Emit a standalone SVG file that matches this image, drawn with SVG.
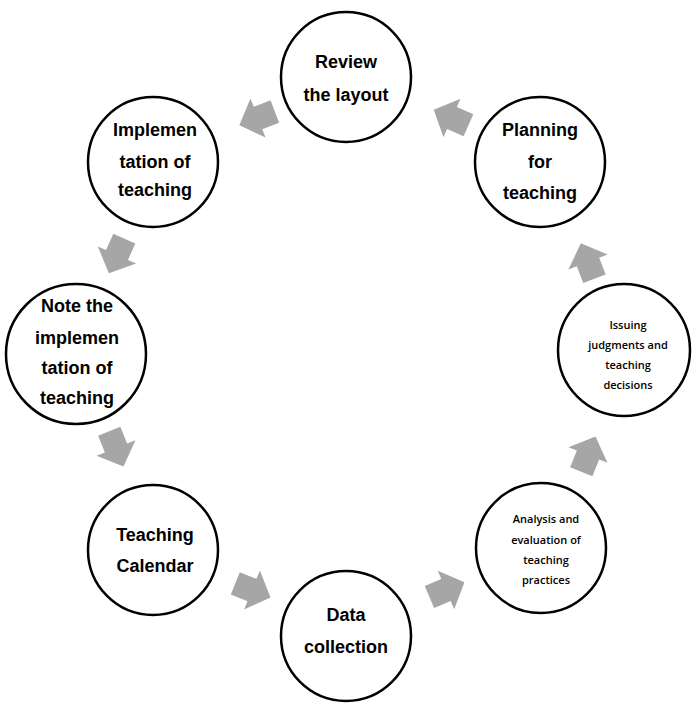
<svg xmlns="http://www.w3.org/2000/svg" width="693" height="703" viewBox="0 0 693 703">
<defs>
<style>
.c{fill:#fff;stroke:#000;stroke-width:2.5}
.t{font-family:"Liberation Sans",Arial,sans-serif;font-weight:bold;font-size:18px;text-anchor:middle;fill:#000}
.s{font-family:"Open Sans","DejaVu Sans",sans-serif;font-weight:600;font-size:11px;text-anchor:middle;fill:#000}
.a{fill:#a6a6a6}
</style>
<polygon id="arr" points="-18,-12 0,-12 0,-21 20,0 0,21 0,12 -18,12"/>
</defs>
<rect width="693" height="703" fill="#fff"/>
<g id="connectors" class="a">
<use href="#arr" transform="translate(258,118) rotate(159)"/>
<use href="#arr" transform="translate(117,255) rotate(114)"/>
<use href="#arr" transform="translate(116,448) rotate(68)"/>
<use href="#arr" transform="translate(252,590) rotate(22)"/>
<use href="#arr" transform="translate(446,590) rotate(-23)"/>
<use href="#arr" transform="translate(588,455) rotate(-68)"/>
<use href="#arr" transform="translate(588,262) rotate(-111)"/>
<use href="#arr" transform="translate(452,118) rotate(-156)"/>
</g>
<g id="review"><circle class="c" cx="346" cy="77" r="65"/><text class="t" x="346" y="68">Review</text><text class="t" x="346" y="101">the layout</text></g>
<g id="planning"><circle class="c" cx="540" cy="162" r="65"/><text class="t" x="540" y="136">Planning</text><text class="t" x="540" y="168">for</text><text class="t" x="540" y="199">teaching</text></g>
<g id="issuing"><circle class="c" cx="624" cy="350" r="66"/><text class="s" x="628" y="329">Issuing</text><text class="s" x="628" y="349">judgments and</text><text class="s" x="628" y="369">teaching</text><text class="s" x="628" y="389">decisions</text></g>
<g id="analysis"><circle class="c" cx="541" cy="548" r="65"/><text class="s" x="546" y="523">Analysis and</text><text class="s" x="546" y="544">evaluation of</text><text class="s" x="546" y="564">teaching</text><text class="s" x="546" y="584">practices</text></g>
<g id="data"><circle class="c" cx="346" cy="636" r="65"/><text class="t" x="346" y="621">Data</text><text class="t" x="346" y="653">collection</text></g>
<g id="calendar"><circle class="c" cx="153" cy="550" r="65"/><text class="t" x="155" y="541">Teaching</text><text class="t" x="155" y="572">Calendar</text></g>
<g id="note"><circle class="c" cx="76" cy="354" r="70"/><text class="t" x="77" y="312">Note the</text><text class="t" x="77" y="344">implemen</text><text class="t" x="77" y="374">tation of</text><text class="t" x="77" y="404">teaching</text></g>
<g id="implementation"><circle class="c" cx="153" cy="162" r="65"/><text class="t" x="155" y="136">Implemen</text><text class="t" x="155" y="168">tation of</text><text class="t" x="155" y="196">teaching</text></g>
</svg>
